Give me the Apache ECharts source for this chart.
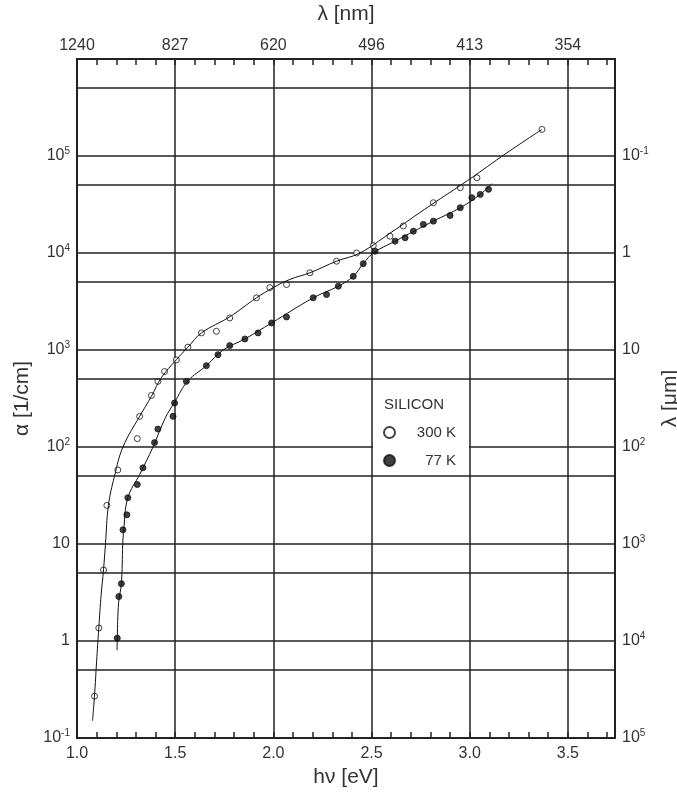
<!DOCTYPE html>
<html>
<head>
<meta charset="utf-8">
<script src="https://cdn.jsdelivr.net/npm/echarts@6/dist/echarts.min.js"></script>
<style>
  html, body { margin: 0; padding: 0; background: #fff; }
  #main { width: 677px; height: 793px; }
</style>
</head>
<body>
<div id="main"></div>
<script type="text/javascript">
// photon energy hv [eV] vs absorption coefficient alpha [1/cm], silicon
var pts300 = [
  [1.089, 0.27], [1.111, 1.36], [1.135, 5.4], [1.152, 25], [1.208, 58],
  [1.307, 122], [1.319, 207], [1.379, 340], [1.412, 475], [1.446, 600],
  [1.506, 790], [1.565, 1070], [1.634, 1500], [1.71, 1560], [1.778, 2140],
  [1.914, 3450], [1.982, 4400], [2.067, 4730], [2.186, 6250], [2.322, 8230],
  [2.424, 10000], [2.509, 11900], [2.594, 14900], [2.662, 19000], [2.815, 33000],
  [2.952, 47100], [3.037, 59700], [3.368, 188000]
];
var pts77 = [
  [1.205, 1.07], [1.213, 2.87], [1.226, 3.9], [1.234, 14], [1.254, 20],
  [1.259, 30], [1.307, 41], [1.336, 61], [1.395, 111], [1.412, 153],
  [1.489, 207], [1.497, 284], [1.557, 475], [1.659, 690], [1.718, 895],
  [1.778, 1110], [1.855, 1300], [1.922, 1500], [1.991, 1900], [2.067, 2190],
  [2.203, 3450], [2.271, 3730], [2.331, 4550], [2.407, 5750], [2.458, 7770],
  [2.518, 10440], [2.62, 13250], [2.671, 14350], [2.713, 16800], [2.764, 19700],
  [2.815, 21300], [2.90, 24400], [2.952, 29300], [3.011, 37150], [3.054, 40200],
  [3.096, 45300]
];
// fitted curves drawn through the points
var curve300 = [
  [1.079, 0.15], [1.089, 0.27], [1.100, 0.62], [1.111, 1.36], [1.123, 3],
  [1.135, 5.4], [1.145, 10], [1.160, 25], [1.191, 50], [1.234, 100],
  [1.319, 207], [1.379, 333], [1.43, 520], [1.506, 794], [1.565, 1070],
  [1.634, 1500], [1.778, 2200], [1.914, 3450], [2.0, 4400], [2.084, 5340],
  [2.186, 6250], [2.322, 8230], [2.441, 10000], [2.594, 16000], [2.80, 31000],
  [2.99, 56000], [3.19, 108000], [3.368, 188000]
];
var curve77 = [
  [1.204, 0.8], [1.205, 1.07], [1.212, 2.5], [1.226, 3.9], [1.233, 10],
  [1.238, 14], [1.259, 30], [1.319, 52], [1.387, 100], [1.45, 200],
  [1.497, 290], [1.565, 480], [1.659, 690], [1.744, 1000], [1.855, 1300],
  [1.991, 1900], [2.203, 3450], [2.331, 4550], [2.407, 5750], [2.458, 7770],
  [2.509, 10000], [2.62, 13250], [2.815, 21300], [2.952, 29300], [3.054, 40200],
  [3.113, 52000]
];
// extra horizontal grid lines (5 x each decade)
var halfDecades = [0.5, 5, 50, 500, 5000, 50000, 500000];
// top axis: wavelength in nm for hv = 1.0, 1.5 ... 3.5
var topLabels = ['1240', '827', '620', '496', '413', '354'];

var FONT = 'Liberation Sans, Arial, sans-serif';
var LINE = '#222';
var TXT = '#333';

function powLabel(v) {
  var e = Math.round(Math.log(v) / Math.LN10);
  if (e === 0) return '1';
  if (e === 1) return '10';
  return '10{s|' + e + '}';
}
var supRich = { s: { fontSize: 10, padding: [0, 0, 10, 0], fontFamily: FONT, color: TXT } };
function isHalf(v) { return Math.abs(v * 2 - Math.round(v * 2)) < 1e-6; }

var myChart = echarts.init(document.getElementById('main'));
var option = {
  backgroundColor: '#fff',
  animation: false,
  textStyle: { fontFamily: FONT },
  grid: { left: 77, right: 62, top: 59, bottom: 55, containLabel: false, outerBoundsMode: 'none' },
  legend: {
    data: ['300 K', '77 K'],
    orient: 'vertical',
    left: 378, top: 420,
    itemWidth: 11, itemHeight: 11, itemGap: 13,
    z: 20,
    formatter: function (name) { return '{a|' + name + '}'; },
    textStyle: { fontFamily: FONT, fontSize: 15, color: TXT,
      rich: { a: { width: 56, align: 'right', fontSize: 15, fontFamily: FONT, color: TXT } } }
  },
  graphic: [
    { type: 'rect', left: 373, top: 388, z: 10, shape: { width: 96, height: 80 }, style: { fill: '#fff' } },
    { type: 'text', left: 384, top: 397, z: 20, style: { text: 'SILICON', font: '15px ' + FONT, fill: TXT } }
  ],
  xAxis: [
    {
      type: 'value', position: 'bottom', min: 1, max: 3.74, interval: 0.5,
      name: 'hν [eV]', nameLocation: 'middle', nameGap: 24,
      nameTextStyle: { fontSize: 21, color: TXT, fontFamily: FONT },
      axisLine: { show: true, onZero: false, lineStyle: { color: LINE, width: 2 } },
      axisTick: { show: false },
      axisLabel: { fontSize: 16, color: TXT, margin: 8,
        formatter: function (v) { return isHalf(v) ? v.toFixed(1) : ''; } },
      splitLine: { show: true, lineStyle: { color: LINE, width: 1.5 } }
    },
    {
      type: 'value', position: 'top', min: 1, max: 3.74, interval: 0.5,
      name: 'λ [nm]', nameLocation: 'middle', nameGap: 34,
      nameTextStyle: { fontSize: 21, color: TXT, fontFamily: FONT },
      axisLine: { show: true, onZero: false, lineStyle: { color: LINE, width: 2 } },
      axisTick: { show: false },
      axisLabel: { fontSize: 16, color: TXT, margin: 5,
        formatter: function (v) { return isHalf(v) ? topLabels[Math.round((v - 1) * 2)] : ''; } },
      splitLine: { show: false }
    },
    {
      type: 'value', position: 'bottom', min: 1, max: 3.74, interval: 0.1,
      axisLine: { show: false, onZero: false },
      axisTick: { show: true, inside: true, length: 6, lineStyle: { color: LINE, width: 1.5 } },
      axisLabel: { show: false }, splitLine: { show: false }
    },
    {
      type: 'value', position: 'top', min: 1, max: 3.74, interval: 0.1,
      axisLine: { show: false, onZero: false },
      axisTick: { show: true, inside: true, length: 6, lineStyle: { color: LINE, width: 1.5 } },
      axisLabel: { show: false }, splitLine: { show: false }
    }
  ],
  yAxis: [
    {
      type: 'log', logBase: 10, position: 'left', min: 0.1, max: 1e6,
      name: 'α [1/cm]', nameLocation: 'middle', nameGap: 39, nameRotate: 90,
      nameTextStyle: { fontSize: 21, color: TXT, fontFamily: FONT },
      axisLine: { show: true, lineStyle: { color: LINE, width: 2 } },
      axisTick: { show: false },
      axisLabel: { fontSize: 16, color: TXT, margin: 7, rich: supRich,
        formatter: function (v) { return v > 5e5 ? '' : powLabel(v); } },
      splitLine: { show: true, lineStyle: { color: LINE, width: 1.5 } }
    },
    {
      type: 'log', logBase: 10, position: 'right', min: 0.01, max: 1e5, inverse: true,
      name: 'λ [μm]', nameLocation: 'middle', nameGap: 31, nameRotate: 90,
      nameTextStyle: { fontSize: 21, color: TXT, fontFamily: FONT },
      axisLine: { show: true, lineStyle: { color: LINE, width: 2 } },
      axisTick: { show: false },
      axisLabel: { fontSize: 16, color: TXT, margin: 7, rich: supRich,
        formatter: function (v) { return v < 0.05 ? '' : powLabel(v); } },
      splitLine: { show: false }
    }
  ],
  series: [
    {
      name: 'curve300', type: 'line', data: curve300, smooth: 0.4,
      xAxisIndex: 0, yAxisIndex: 0, showSymbol: false, symbol: 'none',
      lineStyle: { color: '#111', width: 1 }, silent: true,
      markLine: {
        silent: true, symbol: ['none', 'none'], label: { show: false },
        lineStyle: { color: LINE, width: 1.5, type: 'solid' },
        data: halfDecades.map(function (v) { return { yAxis: v }; })
      }
    },
    {
      name: 'curve77', type: 'line', data: curve77, smooth: 0.4,
      xAxisIndex: 0, yAxisIndex: 0, showSymbol: false, symbol: 'none',
      lineStyle: { color: '#111', width: 1 }, silent: true
    },
    {
      name: '300 K', type: 'scatter', data: pts300, xAxisIndex: 0, yAxisIndex: 0,
      symbol: 'circle', symbolSize: 6,
      itemStyle: { color: '#fff', borderColor: '#111', borderWidth: 1 }
    },
    {
      name: '77 K', type: 'scatter', data: pts77, xAxisIndex: 0, yAxisIndex: 0,
      symbol: 'circle', symbolSize: 6,
      itemStyle: { color: '#111', borderColor: '#111', borderWidth: 1 }
    }
  ]
};
myChart.setOption(option);
</script>
</body>
</html>
